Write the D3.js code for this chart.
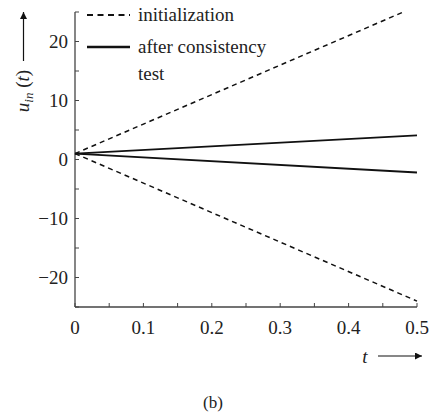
<!DOCTYPE html>
<html>
<head>
<meta charset="utf-8">
<script src="https://d3js.org/d3.v7.min.js"></script>
<style>
  body { margin: 0; background: white; }
  svg text { font-family: "Liberation Serif", serif; fill: #222; }
</style>
</head>
<body>
<div id="plot"></div>
<script>
// data
var initUpper = [[0, 1], [0.48, 25]]
var initLower = [[0, 1], [0.5, -24]]
var testUpper = [[0, 1], [0.5, 4.1]]
var testLower = [[0, 1], [0.5, -2.2]]
var xTicks = [0, 0.1, 0.2, 0.3, 0.4, 0.5]
var yTicks = [-20, -10, 0, 10, 20]
var xMinor = [0, 0.05, 0.1, 0.15, 0.2, 0.25, 0.3, 0.35, 0.4, 0.45, 0.5]
var yMinor = [-25, -20, -15, -10, -5, 0, 5, 10, 15, 20, 25]
var legendLabels = ['initialization', 'after consistency', 'test']

var W = 434, H = 419
var svg = d3.select('#plot').append('svg').attr('width', W).attr('height', H)

var x = d3.scaleLinear().domain([0, 0.5]).range([75, 417])
var y = d3.scaleLinear().domain([-25, 25]).range([307, 12])

var axisColor = '#444'

// axes lines
svg.append('line').attr('x1', x(0)).attr('x2', x(0)).attr('y1', y(25)).attr('y2', y(-25))
  .attr('stroke', axisColor).attr('stroke-width', 1.3)
svg.append('line').attr('x1', x(0)).attr('x2', x(0.5)).attr('y1', y(-25)).attr('y2', y(-25))
  .attr('stroke', axisColor).attr('stroke-width', 1.3)

// inward ticks
svg.selectAll('.ytick').data(yMinor).enter().append('line')
  .attr('x1', x(0)).attr('x2', x(0) + 4)
  .attr('y1', function(d){return y(d)}).attr('y2', function(d){return y(d)})
  .attr('stroke', axisColor).attr('stroke-width', 1)
svg.selectAll('.xtick').data(xMinor).enter().append('line')
  .attr('x1', function(d){return x(d)}).attr('x2', function(d){return x(d)})
  .attr('y1', y(-25)).attr('y2', y(-25) - 4)
  .attr('stroke', axisColor).attr('stroke-width', 1)

// tick labels
svg.selectAll('.ylab').data(yTicks).enter().append('text')
  .attr('x', 68).attr('y', function(d){return y(d) + 6.5})
  .attr('text-anchor', 'end')
  .style('font-size', '19px')
  .text(function(d){return d < 0 ? '\u2212' + Math.abs(d) : String(d)})
svg.selectAll('.xlab').data(xTicks).enter().append('text')
  .attr('x', function(d){return x(d)}).attr('y', 334)
  .attr('text-anchor', 'middle')
  .style('font-size', '19px')
  .text(function(d){return d === 0 ? '0' : d3.format('.1f')(d)})

// series
var line = d3.line().x(function(d){return x(d[0])}).y(function(d){return y(d[1])})
var series = [
  {data: initUpper, dash: '5,4', w: 1.5},
  {data: initLower, dash: '5,4', w: 1.5},
  {data: testUpper, dash: null, w: 1.8},
  {data: testLower, dash: null, w: 1.8}
]
svg.selectAll('.serie').data(series).enter().append('path')
  .attr('d', function(d){return line(d.data)})
  .attr('fill', 'none').attr('stroke', '#111')
  .attr('stroke-width', function(d){return d.w})
  .attr('stroke-dasharray', function(d){return d.dash})

// legend samples
svg.append('line').attr('x1', 87).attr('x2', 130).attr('y1', 15).attr('y2', 15)
  .attr('stroke', '#111').attr('stroke-width', 2).attr('stroke-dasharray', '6,4.5')
svg.append('line').attr('x1', 87).attr('x2', 130).attr('y1', 47).attr('y2', 47)
  .attr('stroke', '#111').attr('stroke-width', 2.6)
svg.selectAll('.legtext').data(legendLabels).enter().append('text')
  .attr('x', 138).attr('y', function(d, i){return [21, 53, 80][i]})
  .style('font-size', '19px')
  .text(function(d){return d})

// arrow marker
var defs = svg.append('defs')
defs.append('marker').attr('id', 'arr').attr('viewBox', '0 0 10 10')
  .attr('refX', 10).attr('refY', 5).attr('markerWidth', 10).attr('markerHeight', 7)
  .attr('markerUnits', 'userSpaceOnUse').attr('orient', 'auto')
  .append('path').attr('d', 'M0,0L10,5L0,10z').attr('fill', '#111')

// y label with arrow
svg.append('line').attr('x1', 23.5).attr('x2', 23.5).attr('y1', 61).attr('y2', 12)
  .attr('stroke', '#111').attr('stroke-width', 1.2).attr('marker-end', 'url(#arr)')
var yl = svg.append('text').attr('transform', 'translate(29,91) rotate(-90)')
  .attr('text-anchor', 'middle').style('font-size', '19px')
yl.append('tspan').style('font-style', 'italic').text('u')
yl.append('tspan').style('font-style', 'italic').style('font-size', '13px').attr('dy', 4).text('in')
yl.append('tspan').attr('dy', -4).text(' (')
yl.append('tspan').style('font-style', 'italic').text('t')
yl.append('tspan').text(')')

// x label with arrow
svg.append('text').attr('x', 365).attr('y', 363).attr('text-anchor', 'middle')
  .style('font-size', '19px').style('font-style', 'italic').text('t')
svg.append('line').attr('x1', 378).attr('x2', 422).attr('y1', 356).attr('y2', 356)
  .attr('stroke', '#111').attr('stroke-width', 1.2).attr('marker-end', 'url(#arr)')

// caption
svg.append('text').attr('x', 213).attr('y', 408).attr('text-anchor', 'middle')
  .style('font-size', '17px').text('(b)')
</script>
</body>
</html>
